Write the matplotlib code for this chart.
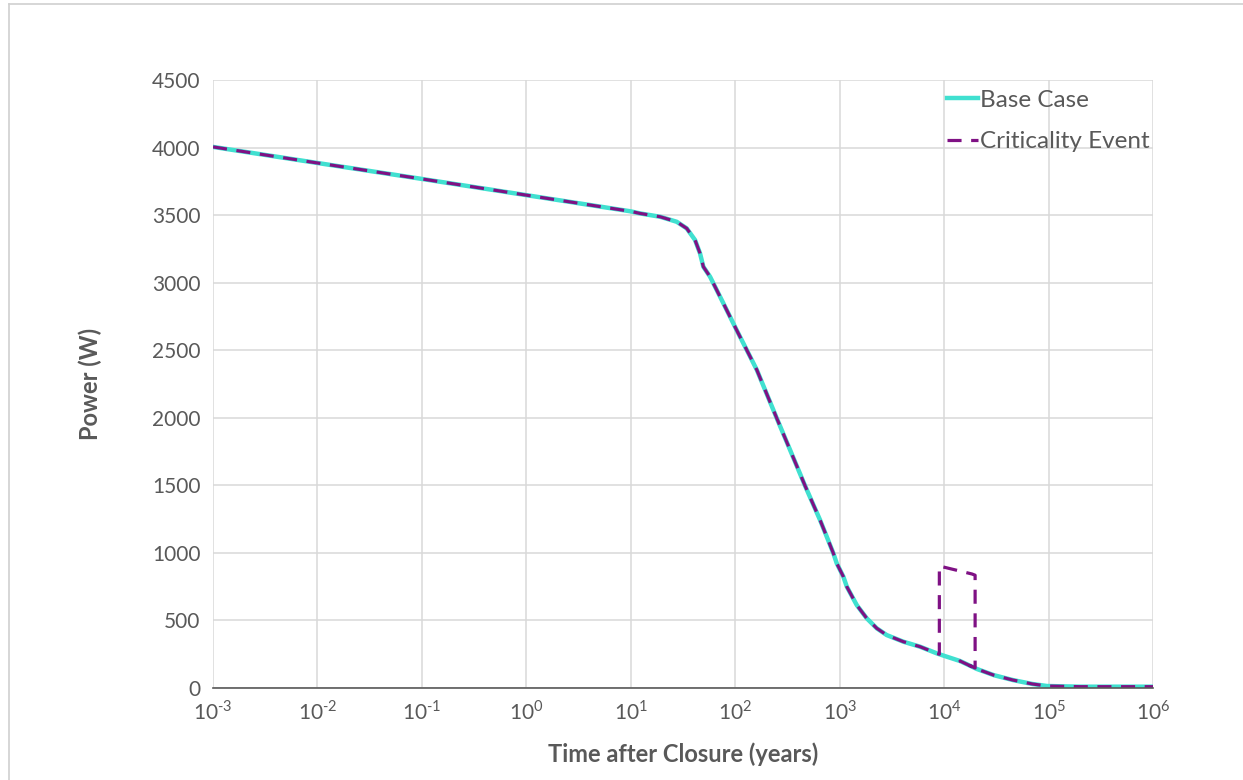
import matplotlib.pyplot as plt
from matplotlib.lines import Line2D
from matplotlib.ticker import FixedLocator, NullLocator

plt.rcParams['font.family'] = ['Lato', 'DejaVu Sans']
plt.rcParams['mathtext.fontset'] = 'custom'
plt.rcParams['mathtext.rm'] = 'Lato'

# data (time in years, power in W)
base_t = [1e-3, 1e-2, 1e-1, 1, 10, 12.2, 19.1, 27.5, 34.3, 41.2, 46.0, 49.5, 57.4, 77,
          103, 139, 161, 250, 335, 466, 649, 752, 871, 937, 1085, 1170, 1457, 1816,
          2265, 2820, 4070, 5880, 8490, 9000]
base_p = [4005, 3886, 3768, 3648, 3528, 3513, 3488, 3451, 3402, 3316, 3217, 3118, 3044,
          2847, 2650, 2452, 2354, 1996, 1762, 1497, 1243, 1120, 996, 923, 824, 750, 614,
          516, 442, 392, 343, 306, 257, 250]
tail_t = [14200, 20600, 30000, 45600, 70000, 96600, 2e5, 1e6]
tail_p = [200, 141, 95, 59, 30, 15, 10, 10]

# criticality event: same as base case except the step between ~9000 and ~20000 years
spike_t = [9000, 18500, 19800, 19800]
spike_p = [903, 844, 835, 148]

decades = [1e-3, 1e-2, 1e-1, 1, 10, 100, 1e3, 1e4, 1e5, 1e6]
dec_labels = [r'$10^{\text{-}3}$', r'$10^{\text{-}2}$', r'$10^{\text{-}1}$', '$10^{0}$',
              '$10^{1}$', '$10^{2}$', '$10^{3}$', '$10^{4}$', '$10^{5}$', '$10^{6}$']
yticks = list(range(0, 4501, 500))

txt = '#595959'
grid_c = '#d9d9d9'

fig = plt.figure(figsize=(12.43, 7.80), dpi=100)
ax = fig.add_axes([0.1714, 0.1179, 0.7562, 0.7795])

ax.plot(base_t + tail_t, base_p + tail_p, color='#40e0d0', lw=3.2,
        label='Base Case', solid_joinstyle='round')
ax.plot(base_t + spike_t + tail_t, base_p + spike_p + tail_p, color='#7f1184', lw=2.3,
        ls=(0, (4.4, 3.0)), label='Criticality Event')

ax.set_xscale('log')
ax.set_xlim(1e-3, 1e6)
ax.set_ylim(0, 4500)
ax.xaxis.set_major_locator(FixedLocator(decades))
ax.xaxis.set_minor_locator(NullLocator())
ax.set_xticklabels(dec_labels)
ax.set_yticks(yticks)

ax.grid(True, which='major', color=grid_c, lw=1.1)
ax.set_axisbelow(True)
for s in ['top', 'right', 'left']:
    ax.spines[s].set_visible(False)
ax.spines['bottom'].set_color('#595959')
ax.spines['bottom'].set_linewidth(1.2)
ax.tick_params(axis='both', length=0, labelsize=15, colors=txt, pad=9)
ax.tick_params(axis='x', pad=8)

ax.set_xlabel('Time after Closure (years)', fontsize=17, fontweight='bold', color=txt, labelpad=14)
ax.set_ylabel('Power (W)', fontsize=17, fontweight='bold', color=txt, labelpad=36)

ax.legend(loc='upper right', bbox_to_anchor=(1.02, 1.02), frameon=False, fontsize=17.5,
          handlelength=1.25, handletextpad=0.1, labelspacing=0.85, labelcolor=txt)

# light outer frame (left and top edges visible in the reference)
fig.add_artist(Line2D([9 / 1243, 9 / 1243], [0, 1 - 4 / 780], color='#d0d0d0', lw=1.2))
fig.add_artist(Line2D([9 / 1243, 1], [1 - 4 / 780, 1 - 4 / 780], color='#d0d0d0', lw=1.2))

fig.savefig('out.png', dpi=100)
plt.close(fig)
